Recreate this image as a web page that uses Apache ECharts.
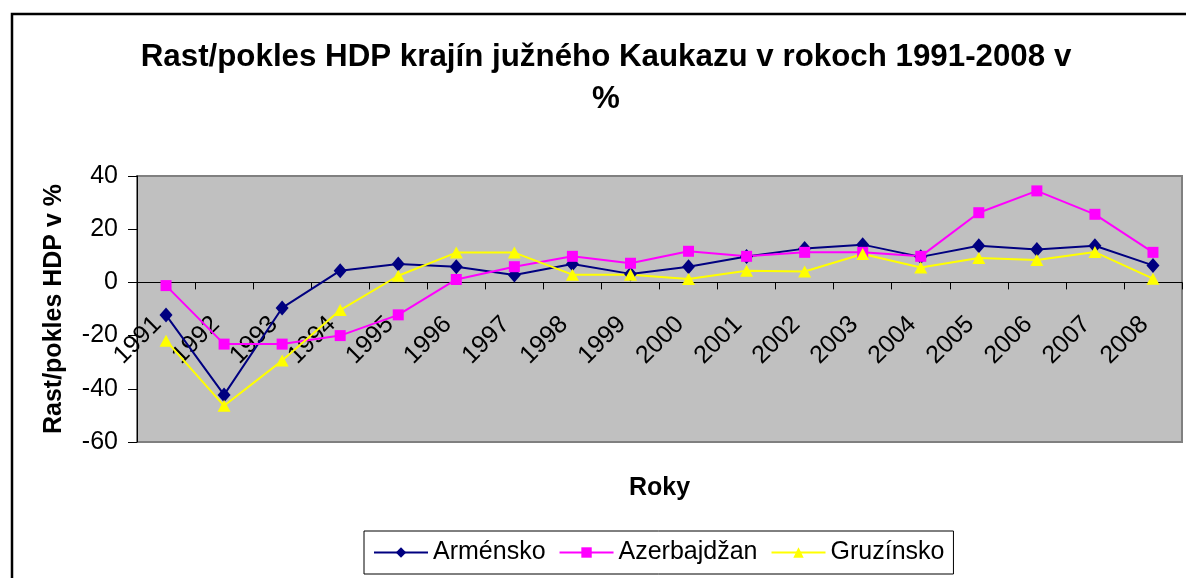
<!DOCTYPE html>
<html>
<head>
<meta charset="utf-8">
<script src="https://cdn.jsdelivr.net/npm/echarts@6/dist/echarts.min.js"></script>
<style>
html,body{margin:0;padding:0;background:#fff;}
#chart{width:1186px;height:578px;}
</style>
</head>
<body>
<div id="chart"></div>
<script>
const years = ['1991','1992','1993','1994','1995','1996','1997','1998','1999','2000','2001','2002','2003','2004','2005','2006','2007','2008'];
const armensko = [-12.3, -42.3, -9.6, 4.4, 6.9, 5.9, 2.8, 6.9, 3.2, 5.9, 9.7, 12.7, 14.2, 9.6, 13.8, 12.4, 13.8, 6.4];
const azerbajdzan = [-1.2, -23.2, -23.2, -20.0, -12.2, 1.1, 5.9, 9.8, 7.2, 11.7, 9.8, 11.3, 11.3, 9.8, 26.2, 34.4, 25.6, 11.3];
const gruzinsko = [-21.9, -46.4, -29.4, -10.4, 2.5, 11.2, 11.2, 2.9, 2.9, 1.3, 4.4, 4.1, 10.7, 5.6, 9.2, 8.4, 11.4, 1.4];
const seriesNames = ['Arménsko', 'Azerbajdžan', 'Gruzínsko'];
const titleText = 'Rast/pokles HDP krajín južného Kaukazu v rokoch 1991-2008 v\n%';
const yName = 'Rast/pokles HDP v %';
const xName = 'Roky';

const FONT = '"Liberation Sans", Arial, sans-serif';
const chart = echarts.init(document.getElementById('chart'), null, {renderer: 'canvas'});
chart.setOption({
  backgroundColor: '#ffffff',
  animation: false,
  graphic: [{
    type: 'rect', z: 100, silent: true,
    shape: {x: 12, y: 14, width: 1250, height: 650},
    style: {fill: 'none', stroke: '#000', lineWidth: 2.5}
  }],
  title: {
    text: titleText,
    left: 601, top: 31, textAlign: 'center',
    textStyle: {fontFamily: FONT, fontSize: 31.3, fontWeight: 'bold', color: '#000', lineHeight: 42}
  },
  legend: {
    data: seriesNames,
    left: 364, top: 531,
    padding: [9, 9, 9, 9],
    itemWidth: 54, itemHeight: 13, itemGap: 13,
    borderColor: '#000', borderWidth: 1, backgroundColor: '#fff',
    textStyle: {fontFamily: FONT, fontSize: 25, color: '#000'}
  },
  grid: {
    left: 137, right: 4, top: 176, bottom: 136,
    outerBoundsMode: 'none', containLabel: false,
    show: true, backgroundColor: '#c0c0c0', borderColor: '#808080', borderWidth: 2
  },
  xAxis: {
    type: 'category', data: years, boundaryGap: true,
    name: xName, nameLocation: 'middle', nameGap: 34,
    nameTextStyle: {fontFamily: FONT, fontSize: 25, fontWeight: 'bold', color: '#000'},
    axisLine: {onZero: true, lineStyle: {color: '#000', width: 1}},
    axisTick: {show: true, length: 7, lineStyle: {color: '#000'}},
    axisLabel: {rotate: 45, margin: -130, padding: [0, 12, 0, 0], interval: 0, fontFamily: FONT, fontSize: 25, color: '#000'},
    splitLine: {show: false}
  },
  yAxis: {
    type: 'value', min: -60, max: 40, interval: 20,
    name: yName, nameLocation: 'middle', nameGap: 70, nameRotate: 90,
    nameTextStyle: {fontFamily: FONT, fontSize: 25, fontWeight: 'bold', color: '#000'},
    axisLine: {show: true, lineStyle: {color: '#000', width: 1}},
    axisTick: {show: true, length: 9, lineStyle: {color: '#000'}},
    axisLabel: {margin: 19, fontFamily: FONT, fontSize: 25, color: '#000'},
    splitLine: {show: false}
  },
  series: [
    {name: seriesNames[0], type: 'line', data: armensko, symbol: 'diamond', symbolSize: [13, 15],
      itemStyle: {color: '#000080'}, lineStyle: {color: '#000080', width: 2}},
    {name: seriesNames[1], type: 'line', data: azerbajdzan, symbol: 'rect', symbolSize: 11,
      itemStyle: {color: '#ff00ff'}, lineStyle: {color: '#ff00ff', width: 2}},
    {name: seriesNames[2], type: 'line', data: gruzinsko, symbol: 'triangle', symbolSize: [13, 12],
      itemStyle: {color: '#ffff00'}, lineStyle: {color: '#ffff00', width: 2}}
  ]
});
</script>
</body>
</html>
